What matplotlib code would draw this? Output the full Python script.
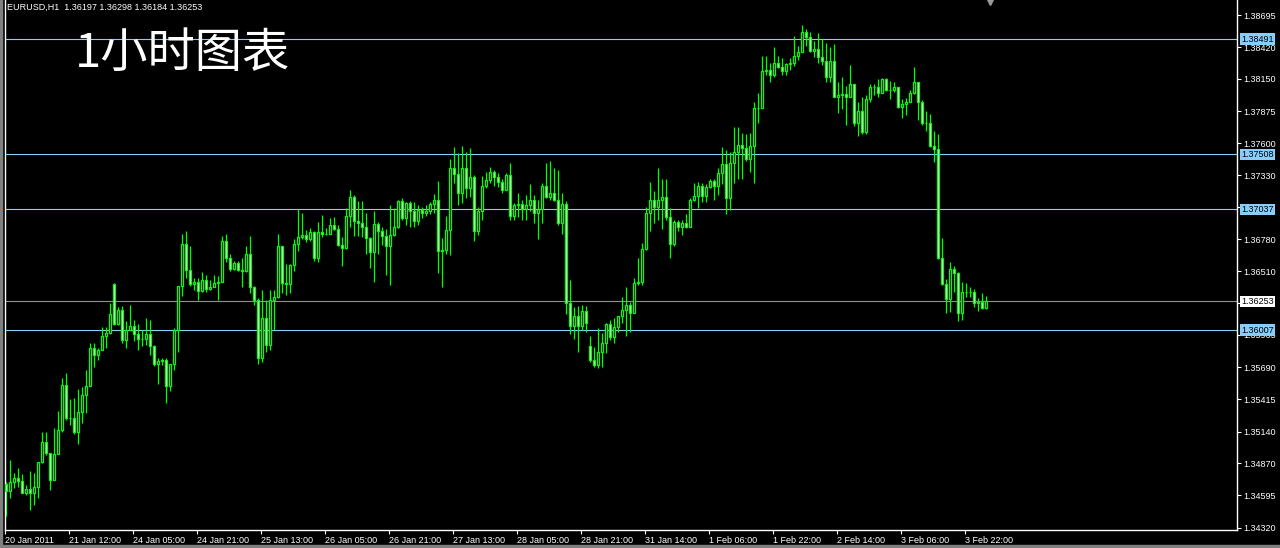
import matplotlib.pyplot as plt
import numpy as np
from matplotlib.patches import Rectangle

plt.rcParams['font.family'] = ['Liberation Sans', 'DejaVu Sans']

# EURUSD H1, bars from 20 Jan 2011 20:00
closes = [
    1.3463, 1.3471, 1.3474, 1.3472, 1.3462, 1.3465, 1.3462, 1.3467, 1.3488, 1.3505,
    1.3496, 1.3473, 1.3495, 1.3515, 1.3554, 1.3526, 1.3526, 1.3514, 1.3531, 1.3545,
    1.3553, 1.3585, 1.3579, 1.3584, 1.3596, 1.3598, 1.3614, 1.3606, 1.3618, 1.3592,
    1.3601, 1.3604, 1.3597, 1.3593, 1.3593, 1.3597, 1.3587, 1.3572, 1.3574, 1.3575,
    1.3553, 1.3572, 1.3601, 1.3638, 1.3674, 1.3652, 1.3640, 1.3642, 1.3634, 1.3643,
    1.3636, 1.3637, 1.3641, 1.3642, 1.3677, 1.3662, 1.3653, 1.3658, 1.3652, 1.3651,
    1.3666, 1.3637, 1.3626, 1.3577, 1.3611, 1.3588, 1.3626, 1.3629, 1.3672, 1.3641,
    1.3640, 1.3656, 1.3674, 1.3680, 1.3682, 1.3678, 1.3684, 1.3662, 1.3684, 1.3683,
    1.3683, 1.3690, 1.3687, 1.3673, 1.3671, 1.3698, 1.3714, 1.3694, 1.3692, 1.3689,
    1.3679, 1.3667, 1.3691, 1.3685, 1.3681, 1.3672, 1.3682, 1.3689, 1.3711, 1.3696,
    1.3709, 1.3702, 1.3694, 1.3703, 1.3701, 1.3702, 1.3708, 1.3712, 1.3668, 1.3669,
    1.3686, 1.3739, 1.3734, 1.3718, 1.3739, 1.3722, 1.3731, 1.3685, 1.3702, 1.3724,
    1.3729, 1.3736, 1.3731, 1.3727, 1.3720, 1.3733, 1.3698, 1.3707, 1.3708, 1.3704,
    1.3707, 1.3712, 1.3701, 1.3704, 1.3724, 1.3714, 1.3718, 1.3712, 1.3692, 1.3708,
    1.3624, 1.3604, 1.3613, 1.3604, 1.3617, 1.3607, 1.3575, 1.3571, 1.3582, 1.3590,
    1.3606, 1.3595, 1.3603, 1.3613, 1.3618, 1.3622, 1.3615, 1.3641, 1.3642, 1.3670,
    1.3701, 1.3712, 1.3706, 1.3712, 1.3714, 1.3697, 1.3674, 1.3693, 1.3689, 1.3692,
    1.3689, 1.3712, 1.3715, 1.3724, 1.3715, 1.3723, 1.3728, 1.3724, 1.3735, 1.3742,
    1.3713, 1.3743, 1.3753, 1.3759, 1.3756, 1.3747, 1.3758, 1.3790, 1.3790, 1.3822,
    1.3823, 1.3818, 1.3829, 1.3825, 1.3822, 1.3828, 1.3829, 1.3835, 1.3838, 1.3855,
    1.3851, 1.3839, 1.3841, 1.3834, 1.3830, 1.3817, 1.3830, 1.3800, 1.3801, 1.3802,
    1.3800, 1.3811, 1.3777, 1.3788, 1.3770, 1.3798, 1.3808, 1.3808, 1.3803, 1.3815,
    1.3806, 1.3806, 1.3808, 1.3791, 1.3794, 1.3795, 1.3803, 1.3812, 1.3795, 1.3777,
    1.3777, 1.3758, 1.3755, 1.3662, 1.3640, 1.3627, 1.3653, 1.3649, 1.3615, 1.3633,
    1.3633, 1.3633, 1.3624, 1.3625, 1.36197, 1.36253,
]
highs = [
    1.3471, 1.3490, 1.3479, 1.3483, 1.3478, 1.3468, 1.3480, 1.3479, 1.3488, 1.3514,
    1.3514, 1.3496, 1.3517, 1.3532, 1.3560, 1.3564, 1.3542, 1.3543, 1.3550, 1.3552,
    1.3567, 1.3590, 1.3590, 1.3585, 1.3603, 1.3603, 1.3624, 1.3641, 1.3620, 1.3621,
    1.3608, 1.3622, 1.3609, 1.3606, 1.3601, 1.3611, 1.3609, 1.3588, 1.3577, 1.3577,
    1.3577, 1.3572, 1.3602, 1.3638, 1.3683, 1.3685, 1.3672, 1.3645, 1.3645, 1.3650,
    1.3648, 1.3643, 1.3648, 1.3647, 1.3681, 1.3683, 1.3666, 1.3660, 1.3660, 1.3662,
    1.3672, 1.3681, 1.3638, 1.3628, 1.3635, 1.3626, 1.3635, 1.3635, 1.3683, 1.3672,
    1.3657, 1.3657, 1.3678, 1.3704, 1.3701, 1.3686, 1.3688, 1.3685, 1.3693, 1.3699,
    1.3688, 1.3696, 1.3697, 1.3690, 1.3680, 1.3705, 1.3720, 1.3716, 1.3711, 1.3711,
    1.3701, 1.3680, 1.3702, 1.3693, 1.3689, 1.3687, 1.3707, 1.3705, 1.3712, 1.3713,
    1.3710, 1.3711, 1.3710, 1.3707, 1.3706, 1.3707, 1.3710, 1.3717, 1.3728, 1.3679,
    1.3698, 1.3747, 1.3757, 1.3752, 1.3758, 1.3753, 1.3756, 1.3733, 1.3706, 1.3732,
    1.3736, 1.3740, 1.3737, 1.3735, 1.3730, 1.3735, 1.3743, 1.3709, 1.3718, 1.3712,
    1.3716, 1.3725, 1.3716, 1.3712, 1.3726, 1.3743, 1.3745, 1.3739, 1.3737, 1.3718,
    1.3711, 1.3643, 1.3620, 1.3621, 1.3622, 1.3621, 1.3596, 1.3586, 1.3602, 1.3598,
    1.3607, 1.3609, 1.3611, 1.3613, 1.3629, 1.3637, 1.3625, 1.3645, 1.3662, 1.3675,
    1.3706, 1.3727, 1.3719, 1.3739, 1.3730, 1.3730, 1.3705, 1.3695, 1.3695, 1.3695,
    1.3700, 1.3713, 1.3726, 1.3727, 1.3726, 1.3725, 1.3730, 1.3730, 1.3739, 1.3757,
    1.3754, 1.3753, 1.3774, 1.3774, 1.3769, 1.3768, 1.3769, 1.3795, 1.3803, 1.3835,
    1.3835, 1.3829, 1.3842, 1.3835, 1.3833, 1.3829, 1.3833, 1.3852, 1.3843, 1.3861,
    1.3858, 1.3855, 1.3847, 1.3854, 1.3849, 1.3846, 1.3842, 1.3845, 1.3812, 1.3817,
    1.3809, 1.3827, 1.3811, 1.3795, 1.3800, 1.3801, 1.3811, 1.3811, 1.3815, 1.3816,
    1.3816, 1.3813, 1.3812, 1.3808, 1.3798, 1.3799, 1.3806, 1.3825, 1.3812, 1.3797,
    1.3788, 1.3785, 1.3771, 1.3768, 1.3679, 1.3644, 1.3659, 1.3655, 1.3650, 1.3642,
    1.3641, 1.3637, 1.3636, 1.3628, 1.3632, 1.36298,
]
lows = [
    1.3442, 1.3457, 1.3466, 1.3467, 1.3462, 1.3460, 1.3447, 1.3451, 1.3457, 1.3487,
    1.3494, 1.3464, 1.3473, 1.3495, 1.3514, 1.3524, 1.3520, 1.3512, 1.3503, 1.3521,
    1.3530, 1.3553, 1.3569, 1.3575, 1.3584, 1.3585, 1.3597, 1.3605, 1.3605, 1.3590,
    1.3585, 1.3601, 1.3591, 1.3584, 1.3587, 1.3588, 1.3579, 1.3570, 1.3555, 1.3571,
    1.3538, 1.3549, 1.3567, 1.3582, 1.3630, 1.3645, 1.3638, 1.3635, 1.3626, 1.3633,
    1.3633, 1.3635, 1.3637, 1.3626, 1.3642, 1.3659, 1.3651, 1.3652, 1.3651, 1.3637,
    1.3650, 1.3632, 1.3622, 1.3572, 1.3573, 1.3582, 1.3584, 1.3601, 1.3628, 1.3632,
    1.3631, 1.3632, 1.3651, 1.3668, 1.3678, 1.3676, 1.3677, 1.3660, 1.3659, 1.3680,
    1.3682, 1.3683, 1.3686, 1.3672, 1.3655, 1.3670, 1.3689, 1.3681, 1.3681, 1.3680,
    1.3666, 1.3654, 1.3642, 1.3666, 1.3673, 1.3648, 1.3639, 1.3681, 1.3688, 1.3695,
    1.3690, 1.3689, 1.3689, 1.3690, 1.3696, 1.3698, 1.3700, 1.3701, 1.3649, 1.3637,
    1.3666, 1.3665, 1.3726, 1.3707, 1.3709, 1.3713, 1.3714, 1.3677, 1.3682, 1.3695,
    1.3722, 1.3726, 1.3724, 1.3723, 1.3718, 1.3720, 1.3695, 1.3695, 1.3697, 1.3695,
    1.3695, 1.3702, 1.3692, 1.3678, 1.3692, 1.3713, 1.3712, 1.3711, 1.3690, 1.3683,
    1.3614, 1.3597, 1.3593, 1.3582, 1.3601, 1.3599, 1.3573, 1.3569, 1.3568, 1.3569,
    1.3581, 1.3592, 1.3590, 1.3599, 1.3607, 1.3596, 1.3599, 1.3615, 1.3639, 1.3639,
    1.3669, 1.3685, 1.3692, 1.3695, 1.3687, 1.3695, 1.3662, 1.3672, 1.3685, 1.3682,
    1.3688, 1.3689, 1.3711, 1.3705, 1.3710, 1.3710, 1.3722, 1.3712, 1.3716, 1.3725,
    1.3700, 1.3703, 1.3726, 1.3730, 1.3730, 1.3745, 1.3736, 1.3726, 1.3777, 1.3790,
    1.3818, 1.3812, 1.3817, 1.3824, 1.3818, 1.3818, 1.3823, 1.3826, 1.3831, 1.3838,
    1.3843, 1.3838, 1.3834, 1.3829, 1.3827, 1.3812, 1.3812, 1.3800, 1.3786, 1.3789,
    1.3776, 1.3800, 1.3775, 1.3766, 1.3768, 1.3768, 1.3795, 1.3801, 1.3800, 1.3803,
    1.3805, 1.3798, 1.3804, 1.3790, 1.3782, 1.3784, 1.3795, 1.3802, 1.3780, 1.3776,
    1.3771, 1.3757, 1.3744, 1.3661, 1.3639, 1.3615, 1.3616, 1.3633, 1.3608, 1.3609,
    1.3629, 1.3629, 1.3620, 1.3617, 1.3619, 1.36184,
]
# bars whose open is not the previous close (first bar, Monday gaps)
gap_opens = {0: 1.3469, 27: 1.3640, 146: 1.3587}

date_labels = ["20 Jan 2011", "21 Jan 12:00", "24 Jan 05:00", "24 Jan 21:00",
               "25 Jan 13:00", "26 Jan 05:00", "26 Jan 21:00", "27 Jan 13:00",
               "28 Jan 05:00", "28 Jan 21:00", "31 Jan 14:00", "1 Feb 06:00",
               "1 Feb 22:00", "2 Feb 14:00", "3 Feb 06:00", "3 Feb 22:00"]
price_ticks = [1.38695, 1.38420, 1.38150, 1.37875, 1.37600, 1.37330, 1.37055,
               1.36780, 1.36510, 1.36235, 1.35965, 1.35690, 1.35415, 1.35140,
               1.34870, 1.34595, 1.34320]
# tick labels that sit fully under a line label box
hidden_ticks = [1.37055, 1.36235]
levels = [1.38491, 1.37508, 1.37037, 1.36007]
bid = 1.36253

c = np.array(closes)
o = np.r_[c[0], c[:-1]]
for k, v in gap_opens.items():
    o[k] = v
h = np.maximum(np.array(highs), np.maximum(o, c))
l = np.minimum(np.array(lows), np.minimum(o, c))
x = np.arange(len(c))

fig = plt.figure(figsize=(12.8, 5.48), dpi=100, facecolor='black')
ax = fig.add_axes([5 / 1280, 18 / 548, 1232 / 1280, 530 / 548])
ax.set_facecolor('black')

green = '#00ff00'
ax.vlines(x, l, h, color=green, lw=0.9, zorder=2)
up = c >= o
ax.bar(x, np.abs(c - o), bottom=np.minimum(o, c), width=0.62,
       color=np.where(up, 'black', 'white'), edgecolor=green, linewidth=0.9, zorder=3)

for lv in levels:
    ax.axhline(lv, color='#87cefa', lw=0.8, zorder=1)
    ax.annotate(f'{lv:.5f}', xy=(1, lv), xycoords=('axes fraction', 'data'),
                xytext=(3, 0), textcoords='offset points', va='center', ha='left',
                fontsize=6.5, color='black', annotation_clip=False, zorder=5,
                bbox=dict(boxstyle='square,pad=0.12', fc='#87cefa', ec='none'))
ax.axhline(bid, color='#909090', lw=0.8, zorder=1)
ax.annotate(f'{bid:.5f}', xy=(1, bid), xycoords=('axes fraction', 'data'),
            xytext=(3, 0), textcoords='offset points', va='center', ha='left',
            fontsize=6.5, color='black', annotation_clip=False, zorder=5,
            bbox=dict(boxstyle='square,pad=0.12', fc='white', ec='none'))

ax.set_xlim(-0.25, 307.75)
ax.set_ylim(1.34300, 1.38824)

ax.yaxis.tick_right()
ax.set_yticks(price_ticks)
ax.set_yticklabels(['' if t in hidden_ticks else f'{t:.5f}' for t in price_ticks])
ax.set_xticks(np.arange(len(date_labels)) * 16 - 0.25)
ax.set_xticklabels(date_labels)
for lab in ax.get_xticklabels():
    lab.set_ha('left')
ax.tick_params(axis='both', colors='white', labelsize=6.5, length=3, width=0.8, pad=1.5)

for s in ['left', 'right', 'bottom']:
    ax.spines[s].set_color('white')
    ax.spines[s].set_linewidth(1)
ax.spines['top'].set_visible(False)

# chart shift marker
ax.plot([246], [1.38824], marker='v', ms=7, color='#9a9a9a', clip_on=False)

fig.text(7 / 1280, 1 - 7 / 548, 'EURUSD,H1  1.36197 1.36298 1.36184 1.36253',
         color='white', fontsize=6.5, va='center', ha='left')
fig.text(75 / 1280, 1 - 54 / 548, '1小时图表', color='white', fontsize=34,
         family=['Noto Sans CJK SC', 'DejaVu Sans'], va='center', ha='left')

fig.patches.append(Rectangle((0, 0), 2 / 1280, 1, transform=fig.transFigure,
                             color='#808080', zorder=0))
fig.patches.append(Rectangle((0, 0), 1, 3 / 548, transform=fig.transFigure,
                             color='#808080', zorder=0))

fig.savefig('out.png', dpi=100, facecolor='black')
